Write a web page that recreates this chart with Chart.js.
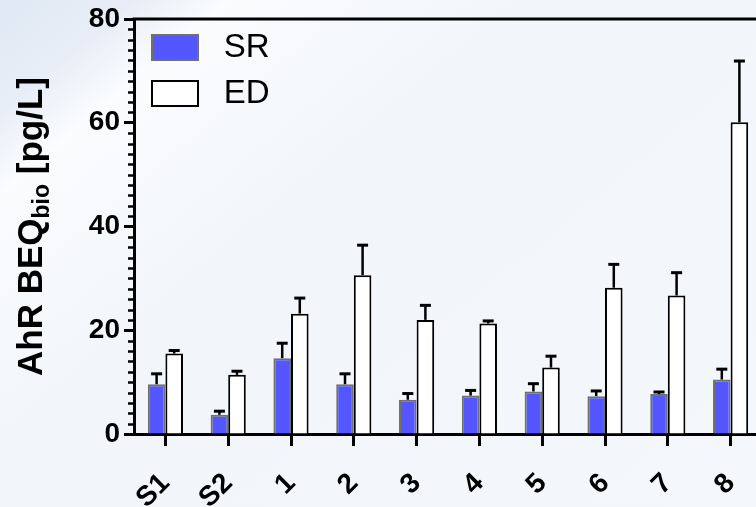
<!DOCTYPE html>
<html>
<head>
<meta charset="utf-8">
<script src="https://cdn.jsdelivr.net/npm/chart.js@4.4.1/dist/chart.umd.min.js"></script>
<style>
  html, body {
    margin: 0;
    padding: 0;
    width: 756px;
    height: 507px;
    overflow: hidden;
    background: linear-gradient(140deg, #dfe8f3 0%, #e8eef7 10%, #fbfcfe 17%, #f7f9fc 24%, #f2f6fb 40%, #f4f8fc 100%);
  }
  #beqChart { position: absolute; left: 0; top: 0; }
</style>
</head>
<body>
<canvas id="beqChart" width="766" height="507"></canvas>
<script>
// ====== ДАННЫЕ ======
const categories = ['S1', 'S2', '1', '2', '3', '4', '5', '6', '7', '8'];
const srMean = [9.6, 3.7, 14.6, 9.6, 6.6, 7.4, 8.2, 7.3, 7.7, 10.5];
const srErr  = [2.0, 0.7, 2.9, 2.0, 1.2, 1.0, 1.5, 1.0, 0.4, 2.0];
const edMean = [15.5, 11.4, 23.2, 30.6, 22.0, 21.3, 12.8, 28.2, 26.7, 60.1];
const edErr  = [0.6, 0.7, 3.0, 5.8, 2.8, 0.5, 2.2, 4.5, 4.4, 11.8];
const yTicks = [0, 20, 40, 60, 80];
// =====================

const FONT = '"Liberation Sans", Arial, Helvetica, sans-serif';
const errors = [srErr, edErr];

// усы ошибок (только вверх)
const errorBars = {
    id: 'errorBars',
    afterDatasetsDraw(chart) {
        const ctx = chart.ctx;
        const yScale = chart.scales.y;
        ctx.save();
        ctx.strokeStyle = '#000';
        chart.data.datasets.forEach((ds, i) => {
            const meta = chart.getDatasetMeta(i);
            meta.data.forEach((bar, j) => {
                const top = yScale.getPixelForValue(ds.data[j] + errors[i][j]);
                ctx.lineWidth = 2.5;
                ctx.beginPath();
                ctx.moveTo(bar.x, bar.y);
                ctx.lineTo(bar.x, top);
                ctx.stroke();
                ctx.lineWidth = 3;
                ctx.beginPath();
                ctx.moveTo(bar.x - 5.5, top);
                ctx.lineTo(bar.x + 5.5, top);
                ctx.stroke();
            });
        });
        ctx.restore();
    }
};

// сдвигаем легенду внутрь области графика
const legendShift = {
    id: 'legendShift',
    afterLayout(chart) {
        if (chart.legend) {
            chart.legend.left += 5;
            chart.legend.right += 5;
            chart.legend.top += 18;
            chart.legend.bottom += 18;
        }
    }
};

// мелкие деления, верхняя рамка и подпись оси Y
const axisExtras = {
    id: 'axisExtras',
    afterDraw(chart) {
        const ctx = chart.ctx;
        const yScale = chart.scales.y;
        const area = chart.chartArea;
        ctx.save();
        ctx.strokeStyle = '#000';
        ctx.lineWidth = 2.5;
        for (let v = 2; v < 80; v += 2) {
            if (v % 20 === 0) continue;
            const py = Math.round(yScale.getPixelForValue(v)) + 0.5;
            ctx.beginPath();
            ctx.moveTo(area.left - 6, py);
            ctx.lineTo(area.left, py);
            ctx.stroke();
        }
        ctx.lineWidth = 3;
        ctx.beginPath();
        ctx.moveTo(area.left - 1.5, area.top);
        ctx.lineTo(chart.width, area.top);
        ctx.stroke();

        // AhR BEQ_bio [pg/L]
        const cy = (area.top + area.bottom) / 2;
        const big = 'bold 35px ' + FONT;
        const small = 'bold 23px ' + FONT;
        ctx.font = big;
        const w1 = ctx.measureText('AhR BEQ').width;
        const w3 = ctx.measureText(' [pg/L]').width;
        ctx.font = small;
        const w2 = ctx.measureText('bio').width;
        const total = w1 + w2 + w3;
        ctx.translate(42, cy);
        ctx.rotate(-Math.PI / 2);
        ctx.fillStyle = '#000';
        ctx.textBaseline = 'alphabetic';
        ctx.textAlign = 'left';
        let x = -total / 2;
        ctx.font = big;
        ctx.fillText('AhR BEQ', x, 0);
        x += w1;
        ctx.font = small;
        ctx.fillText('bio', x, 7);
        x += w2;
        ctx.font = big;
        ctx.fillText(' [pg/L]', x, 0);
        ctx.restore();
    }
};

const ctx = document.getElementById('beqChart').getContext('2d');
new Chart(ctx, {
    type: 'bar',
    data: {
        labels: categories,
        datasets: [{
            label: ' SR',
            data: srMean,
            backgroundColor: '#5457ff',
            borderColor: '#707070',
            borderWidth: 2,
            categoryPercentage: 0.56,
            barPercentage: 1.0
        }, {
            label: ' ED',
            data: edMean,
            backgroundColor: '#ffffff',
            borderColor: '#000000',
            borderWidth: 2,
            categoryPercentage: 0.56,
            barPercentage: 1.0
        }]
    },
    options: {
        responsive: false,
        animation: false,
        layout: { padding: { top: 19, right: 4, left: 0, bottom: 0 } },
        scales: {
            x: {
                grid: {
                    display: true,
                    drawOnChartArea: false,
                    drawTicks: true,
                    offset: false,
                    tickLength: 12,
                    tickWidth: 3,
                    tickColor: '#000'
                },
                border: { display: true, width: 3, color: '#000' },
                ticks: {
                    color: '#000',
                    font: { family: FONT, size: 28, weight: 'bold' },
                    minRotation: 45,
                    maxRotation: 45,
                    padding: 21
                },
                afterFit: scale => {
                    scale.height = 73;
                    scale.paddingLeft = 0;
                    scale.paddingRight = 0;
                }
            },
            y: {
                min: 0,
                max: 80,
                afterBuildTicks: scale => { scale.ticks = yTicks.map(v => ({ value: v })); },
                grid: {
                    display: true,
                    drawOnChartArea: false,
                    tickLength: 10,
                    tickWidth: 3,
                    tickColor: '#000'
                },
                border: { display: true, width: 3, color: '#000' },
                ticks: {
                    color: '#000',
                    font: { family: FONT, size: 28, weight: 'bold' },
                    padding: 4
                },
                afterFit: scale => {
                    scale.width = 134;
                    scale.paddingTop = 0;
                    scale.paddingBottom = 0;
                }
            }
        },
        plugins: {
            legend: {
                position: 'chartArea',
                align: 'start',
                labels: {
                    color: '#000',
                    font: { family: FONT, size: 33 },
                    boxWidth: 46,
                    boxHeight: 25,
                    padding: 13
                }
            },
            tooltip: { enabled: false }
        }
    },
    plugins: [errorBars, legendShift, axisExtras]
});
</script>
</body>
</html>
